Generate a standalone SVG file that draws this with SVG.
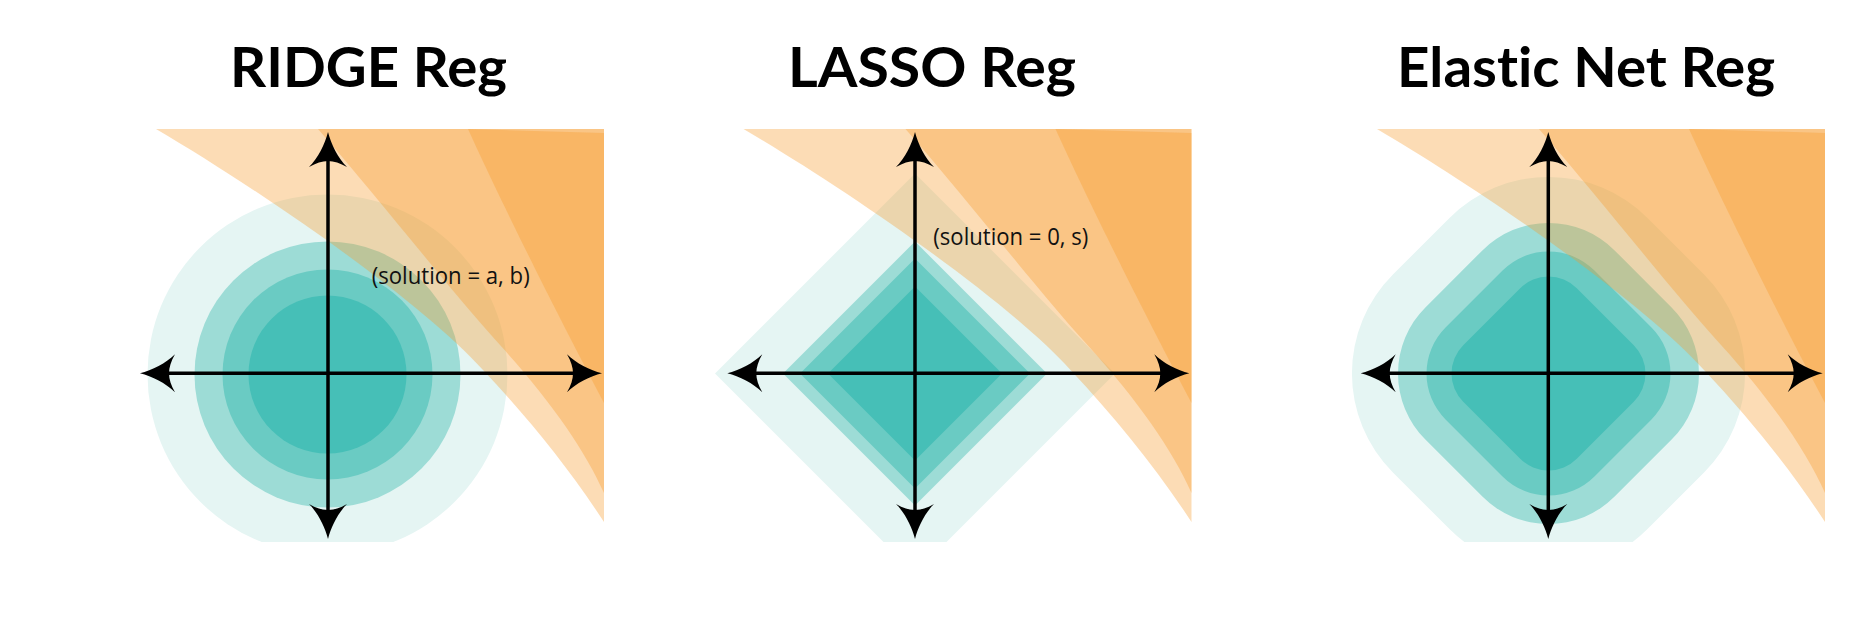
<svg xmlns="http://www.w3.org/2000/svg" xmlns:xlink="http://www.w3.org/1999/xlink" width="1875" height="625" viewBox="0 0 1875 625">
<defs>
<style>
.t{font-family:Lato,"Open Sans","Liberation Sans",sans-serif;font-weight:700;font-size:56px;fill:#000;font-variant-ligatures:none;font-feature-settings:"liga" 0,"clig" 0}
.lbl{font-family:"Open Sans","Liberation Sans",sans-serif;font-size:23px;fill:#111}
.ax{stroke:#000;stroke-width:3.5;fill:none;marker-start:url(#ah);marker-end:url(#ah)}
.o{fill:#f69b2c;fill-opacity:0.35}
.c1{fill:#e5f5f3}.c2{fill:#9ddcd6}.c3{fill:#6acbc3}.c4{fill:#46bfb7}
</style>
<marker id="ah" viewBox="-37 -20 39 40" refX="-25" refY="0" markerWidth="39" markerHeight="40" markerUnits="userSpaceOnUse" orient="auto-start-reverse" overflow="visible">
<path d="M0,0 C-12,3 -26,10 -35,19 C-31,12 -29,6 -29,0 C-29,-6 -31,-12 -35,-19 C-26,-10 -12,-3 0,0 Z" fill="#000"/>
</marker>
<clipPath id="cl"><rect x="0" y="0" width="1875" height="542"/></clipPath>
<g id="orng">
<path class="o" d="M156,129 L604,129 L604,522 C570,470 530,420 483,370 C420,300 260,190 156,129 Z"/>
<path class="o" d="M318,129 L604,129 L604,493 C585,450 550,400 500,345 C450,290 380,200 318,129 Z"/>
<path class="o" d="M468,129 L604,133 L604,403 C560,320 500,200 468,129 Z"/>
</g>
</defs>
<rect width="1875" height="625" fill="#fff"/>

<g id="ridge">
<g clip-path="url(#cl)">
<circle class="c1" cx="327.5" cy="374.5" r="180"/>
<circle class="c2" cx="327.5" cy="374.5" r="133"/>
<circle class="c3" cx="327.5" cy="374.5" r="105"/>
<circle class="c4" cx="327.5" cy="374.5" r="79"/>
</g>
<use xlink:href="#orng"/>
<text class="t" x="230" y="86.7" textLength="277" lengthAdjust="spacingAndGlyphs">RIDGE Reg</text>
<text class="lbl" x="371.7" y="284.3" textLength="158" lengthAdjust="spacingAndGlyphs">(solution = a, b)</text>
</g>

<g id="lasso">
<g clip-path="url(#cl)">
<polygon class="c1" points="915,173.5 1115,373.5 915,573.5 715,373.5"/>
<polygon class="c2" points="915,241.5 1047,373.5 915,505.5 783,373.5"/>
<polygon class="c3" points="915,258.5 1030,373.5 915,488.5 800,373.5"/>
<polygon class="c4" points="915,286.5 1002,373.5 915,460.5 828,373.5"/>
</g>
<use xlink:href="#orng" x="587.5"/>
<text class="t" x="788" y="86.7" textLength="288" lengthAdjust="spacingAndGlyphs">LASSO Reg</text>
<text class="lbl" x="933.3" y="245" textLength="155" lengthAdjust="spacingAndGlyphs">(solution = 0, s)</text>
</g>

<g id="elastic">
<g clip-path="url(#cl)">
<g transform="translate(1548.5 373.5) rotate(45)">
<rect class="c1" x="-180" y="-180" width="360" height="360" rx="140"/>
<rect class="c2" x="-133.8" y="-133.8" width="267.6" height="267.6" rx="93.5"/>
<rect class="c3" x="-105.3" y="-105.3" width="210.6" height="210.6" rx="65"/>
<rect class="c4" x="-80.3" y="-80.3" width="160.6" height="160.6" rx="40"/>
</g>
</g>
<use xlink:href="#orng" x="1221"/>
<text class="t" x="1397" y="86.7" textLength="378" lengthAdjust="spacingAndGlyphs">Elastic Net Reg</text>
</g>

<g id="axes">
<line class="ax" x1="165" y1="373.3" x2="577" y2="373.3"/>
<line class="ax" x1="328" y1="157" x2="328" y2="514"/>
<line class="ax" x1="752.3" y1="373.3" x2="1164.3" y2="373.3"/>
<line class="ax" x1="915" y1="157" x2="915" y2="514"/>
<line class="ax" x1="1385.7" y1="373.3" x2="1797.7" y2="373.3"/>
<line class="ax" x1="1548.3" y1="157" x2="1548.3" y2="514"/>
</g>
</svg>
